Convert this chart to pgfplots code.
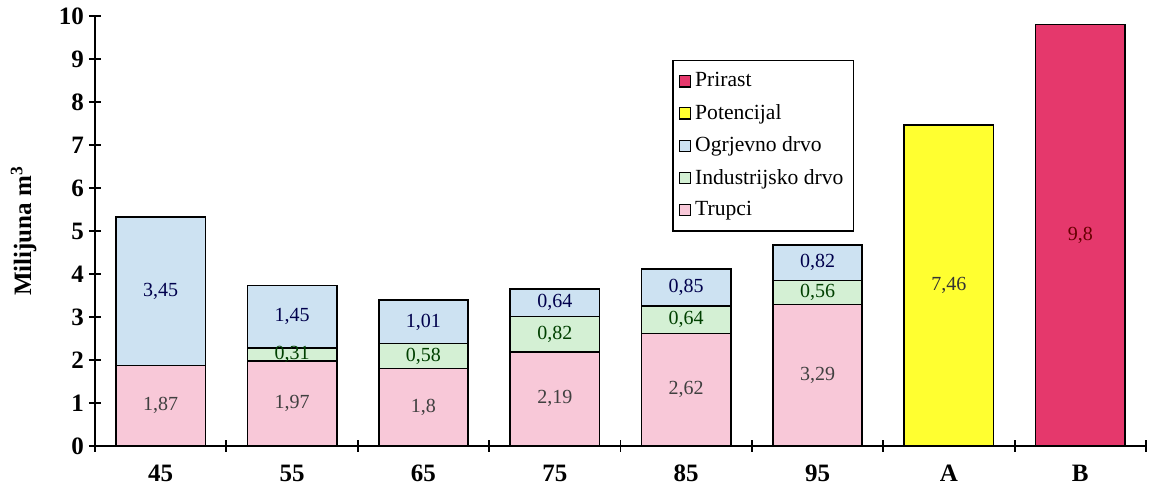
\documentclass[border=0pt]{standalone}
\usepackage{fontspec}
\setmainfont{Liberation Serif}
\usepackage{pgfplots}
\pgfplotsset{compat=1.18}

\definecolor{trupci}{HTML}{F8C8D8}
\definecolor{indust}{HTML}{D4F0D4}
\definecolor{ogrjev}{HTML}{CDE2F2}
\definecolor{potenc}{HTML}{FFFF30}
\definecolor{prirast}{HTML}{E5386C}

\pgfplotsset{
  seg/.style={ybar, bar width=0.68, bar shift=0pt, draw=black, line width=0.8pt, fill=#1},
  lab/.style={draw=none, forget plot, nodes near coords, point meta=explicit symbolic,
    every node near coord/.append style={anchor=center, font=\fontsize{10}{11}\selectfont, text=#1}},
}

\begin{document}
\begin{tikzpicture}
\begin{axis}[
  scale only axis,
  width=525.5pt, height=215pt,
  at={(0,0)}, anchor=south west,
  xmin=-0.5, xmax=7.5, ymin=0, ymax=10,
  axis x line=bottom, axis y line=left,
  axis line style={-, line width=1pt},
  tick align=center, major tick length=6pt,
  tick style={line width=0.9pt, black},
  ytick={0,1,...,10},
  xtick={-0.5,0.5,...,7.5}, xticklabels={},
  extra x ticks={0,1,...,7},
  extra x tick labels={45,55,65,75,85,95,A,B},
  extra x tick style={major tick length=0pt, xticklabel style={yshift=-6pt}},
  ticklabel style={font=\fontsize{12.5}{13}\selectfont\bfseries},
  yticklabel style={xshift=1pt},
  /pgf/number format/assume math mode=true,
  every axis y label/.style={at={(axis description cs:-0.068,0.5)}, rotate=90, anchor=center},
  ylabel={\fontsize{12.5}{13}\selectfont\bfseries Milijuna m\textsuperscript{3}},
  legend cell align=left,
  legend style={at={(0.549,0.898)}, anchor=north west, draw=black, line width=0.8pt,
    font=\fontsize{10.8}{11}\selectfont, row sep=3.2pt, inner xsep=3pt, inner ysep=4pt},
  legend image code/.code={\draw[#1, draw=black, line width=0.6pt] (0pt,-2.8pt) rectangle (5.6pt,2.8pt);},
]
% drawn in legend order; overlapping bars from 0 give the stacked look
\addplot[seg=prirast] coordinates {(7,9.8)};
\addplot[seg=potenc] coordinates {(6,7.46)};
% Ogrjevno drvo: cumulative top of each bar
\addplot[seg=ogrjev] coordinates {(0,5.32) (1,3.73) (2,3.39) (3,3.65) (4,4.11) (5,4.67)};
% Industrijsko drvo: cumulative trupci + industrijsko
\addplot[seg=indust] coordinates {(1,2.28) (2,2.38) (3,3.01) (4,3.26) (5,3.85)};
% Trupci
\addplot[seg=trupci] coordinates {(0,1.87) (1,1.97) (2,1.8) (3,2.19) (4,2.62) (5,3.29)};
\legend{Prirast, Potencijal, Ogrjevno drvo, Industrijsko drvo, Trupci}

% value labels at segment midpoints
\addplot[lab={black!75}] coordinates {(0,0.935)[1,87] (1,0.985)[1,97] (2,0.9)[1,8] (3,1.095)[2,19] (4,1.31)[2,62] (5,1.645)[3,29]};
\addplot[lab={green!25!black}] coordinates {(1,2.125)[0,31] (2,2.09)[0,58] (3,2.6)[0,82] (4,2.94)[0,64] (5,3.57)[0,56]};
\addplot[lab={blue!30!black}] coordinates {(0,3.595)[3,45] (1,3.005)[1,45] (2,2.885)[1,01] (3,3.33)[0,64] (4,3.685)[0,85] (5,4.26)[0,82]};
\addplot[lab={black!80}] coordinates {(6,3.73)[7,46]};
\addplot[lab={red!40!black}] coordinates {(7,4.9)[9,8]};
\end{axis}
\pgfresetboundingbox
\useasboundingbox (-47.5pt,-22.5pt) rectangle (527pt,223pt);
\end{tikzpicture}
\end{document}
